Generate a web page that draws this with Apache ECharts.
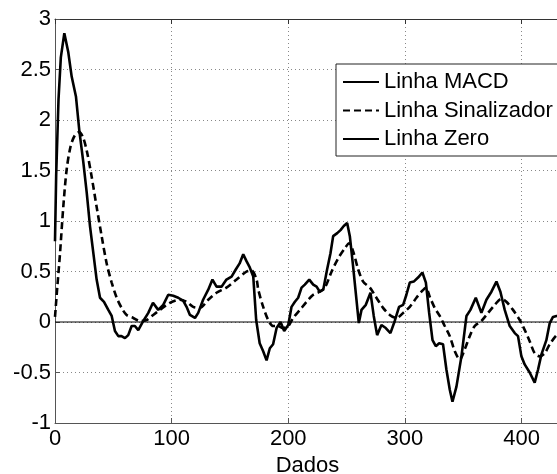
<!DOCTYPE html>
<html>
<head>
<meta charset="utf-8">
<script src="https://cdn.jsdelivr.net/npm/echarts@6/dist/echarts.min.js"></script>
<style>
html,body{margin:0;padding:0;background:#fff;}
#c{width:557px;height:474px;}
</style>
</head>
<body>
<div id="c"></div>
<script>
const seriesNames = ['Linha MACD', 'Linha Sinalizador', 'Linha Zero'];
const xTicks = [0, 100, 200, 300, 400];
const yTicks = [-1, -0.5, 0, 0.5, 1, 1.5, 2, 2.5, 3];
const xAxisName = 'Dados';

const macdX = [0,1,3,5,8,11.4,14.3,18,20.8,24.3,27.2,30,32.8,35.7,38.6,42,45.7,48.6,51.4,54.3,57,60,62.8,65.7,68.5,71.4,75.7,80,84,88.5,92.8,97.1,101.4,105.7,110,112.8,115.7,120,122.8,127,131.4,135,138.5,142.8,147,151.4,155,158.3,161.4,164.3,167,170,172.5,175.5,178.5,181.4,184.2,187,190,193.4,196.5,200,202.8,205.7,208.5,211.4,214.2,218,221.4,224.3,227,230,233.3,236.2,238.5,242,244.8,247.6,250.5,252.8,255.6,258.5,260.5,262.8,266.5,270.5,273.3,276.2,279.9,283.6,287.6,291.3,295,298.5,301.3,304.2,307.6,311.3,315,318,320.8,323.7,326.5,329.4,332.7,335.6,338.5,340.8,344.2,348.5,352.8,356.2,360.8,365.6,369.9,374.2,378.5,381.9,385.6,389.9,394.2,397,399.9,402.7,407,411.3,414.2,417.1,421.3,424.2,427,430,433];
const macdY = [0.80,1.45,2.20,2.62,2.86,2.67,2.43,2.23,1.90,1.58,1.28,0.95,0.69,0.42,0.24,0.20,0.12,0.06,-0.09,-0.14,-0.14,-0.16,-0.13,-0.04,-0.04,-0.08,0.01,0.09,0.19,0.12,0.17,0.27,0.26,0.24,0.21,0.15,0.07,0.04,0.09,0.22,0.32,0.42,0.35,0.35,0.42,0.45,0.52,0.58,0.67,0.60,0.54,0.45,0.02,-0.21,-0.29,-0.38,-0.26,-0.22,-0.06,0.00,-0.09,-0.03,0.15,0.20,0.24,0.34,0.37,0.42,0.37,0.35,0.30,0.32,0.52,0.68,0.85,0.88,0.91,0.95,0.98,0.85,0.55,0.22,-0.01,0.12,0.17,0.29,0.06,-0.13,-0.03,-0.06,-0.11,0.01,0.15,0.17,0.27,0.39,0.40,0.44,0.49,0.39,0.09,-0.18,-0.24,-0.21,-0.22,-0.47,-0.67,-0.79,-0.64,-0.34,0.06,0.12,0.24,0.09,0.22,0.30,0.40,0.30,0.12,-0.04,-0.11,-0.14,-0.34,-0.42,-0.50,-0.60,-0.47,-0.32,-0.18,-0.01,0.05,0.06,0.06];

const signalX = [0,2,4.3,7.1,10,13.4,17.1,20.8,24.3,27.7,31.4,35.7,40,44.3,48.6,52.9,57.1,61.4,67.1,72.8,78.6,84.2,90,98.5,107,112.8,118.5,124.2,131.4,138.5,147,155.7,164.3,168.5,172.8,174.3,178.5,182.8,187,191.3,195.6,200,204.2,210,215.7,221.4,227,231.4,237.2,242.8,248.5,252.2,255.6,260,264.2,270,275.6,281.3,287,292.8,298.5,304.2,309.9,314.2,318,321.3,325.6,329.9,334.2,338.5,342.8,347,351.3,355.6,359.9,365.6,371.3,377.1,382.8,387,392.7,398.5,402.8,407,411.3,415.6,419.9,424.2,429.3,433];
const signalY = [0.05,0.35,0.68,1.14,1.51,1.74,1.85,1.88,1.82,1.67,1.44,1.14,0.85,0.58,0.39,0.24,0.14,0.07,0.04,0.01,0.02,0.07,0.12,0.19,0.22,0.20,0.15,0.14,0.22,0.29,0.34,0.42,0.50,0.51,0.42,0.32,0.15,0.02,-0.04,-0.04,-0.06,-0.04,0.04,0.12,0.20,0.27,0.30,0.34,0.50,0.63,0.73,0.78,0.70,0.52,0.40,0.34,0.24,0.14,0.07,0.04,0.09,0.15,0.24,0.30,0.34,0.25,0.14,0.06,-0.04,-0.14,-0.29,-0.37,-0.27,-0.14,-0.04,0.01,0.09,0.17,0.23,0.20,0.12,0.02,-0.08,-0.19,-0.31,-0.34,-0.31,-0.22,-0.14,-0.10];

const zeroX = [0, 433];
const zeroY = [0, 0];

const zip = (xs, ys) => xs.map((x, i) => [x, ys[i]]);

const FONT = '"Liberation Sans", Arial, Helvetica, sans-serif';
const chart = echarts.init(document.getElementById('c'), null, {renderer: 'canvas'});
chart.setOption({
  animation: false,
  backgroundColor: '#fff',
  textStyle: {fontFamily: FONT},
  grid: {left: 55, top: 19, bottom: 51, right: -3, containLabel: false, outerBoundsMode: 'none'},
  legend: {
    data: seriesNames,
    orient: 'vertical',
    left: 336, top: 64,
    padding: [7, 12, 6, 6],
    itemWidth: 36, itemHeight: 14, itemGap: 6.5,
    backgroundColor: '#fff',
    borderColor: '#222', borderWidth: 1, borderRadius: 0,
    itemStyle: {opacity: 0, color: 'transparent', borderWidth: 0},
    textStyle: {fontFamily: FONT, fontSize: 22, lineHeight: 22, color: '#000'}
  },
  xAxis: [{
    type: 'value', min: 0, max: 433, interval: 100,
    name: xAxisName, nameLocation: 'middle', nameGap: 23,
    nameTextStyle: {fontFamily: FONT, fontSize: 22, color: '#000'},
    axisLine: {show: true, onZero: false, lineStyle: {color: '#555', width: 1}},
    axisTick: {show: true, inside: true, length: 5, lineStyle: {color: '#555'}},
    axisLabel: {fontFamily: FONT, fontSize: 22, color: '#000', margin: 5,
      showMaxLabel: false,
      formatter: v => xTicks.includes(v) ? String(v) : ''},
    splitLine: {show: true, lineStyle: {color: '#888', type: [1, 3], width: 1}}
  }, {
    type: 'value', min: 0, max: 433, interval: 100, position: 'top',
    axisLine: {show: true, onZero: false, lineStyle: {color: '#333', width: 1}},
    axisTick: {show: true, inside: true, length: 5, lineStyle: {color: '#333'}},
    axisLabel: {show: false}, splitLine: {show: false}
  }],
  yAxis: {
    type: 'value', min: -1, max: 3, interval: 0.5,
    axisLine: {show: true, onZero: false, lineStyle: {color: '#555', width: 1}},
    axisTick: {show: true, inside: true, length: 5, lineStyle: {color: '#555'}},
    axisLabel: {fontFamily: FONT, fontSize: 22, color: '#000', margin: 4,
      formatter: v => yTicks.includes(v) ? String(v) : ''},
    splitLine: {show: true, lineStyle: {color: '#888', type: [1, 3], width: 1}}
  },
  series: [
    {name: seriesNames[0], type: 'line', data: zip(macdX, macdY), symbol: 'none',
     lineStyle: {color: '#000', width: 2.6}, itemStyle: {color: '#000'}, z: 4},
    {name: seriesNames[1], type: 'line', data: zip(signalX, signalY), symbol: 'none', smooth: 0.3,
     lineStyle: {color: '#000', width: 2.6, type: [7, 4]}, itemStyle: {color: '#000'}, z: 3},
    {name: seriesNames[2], type: 'line', data: zip(zeroX, zeroY), symbol: 'none',
     lineStyle: {color: '#000', width: 1}, itemStyle: {color: '#000'}, z: 2}
  ]
});
</script>
</body>
</html>
